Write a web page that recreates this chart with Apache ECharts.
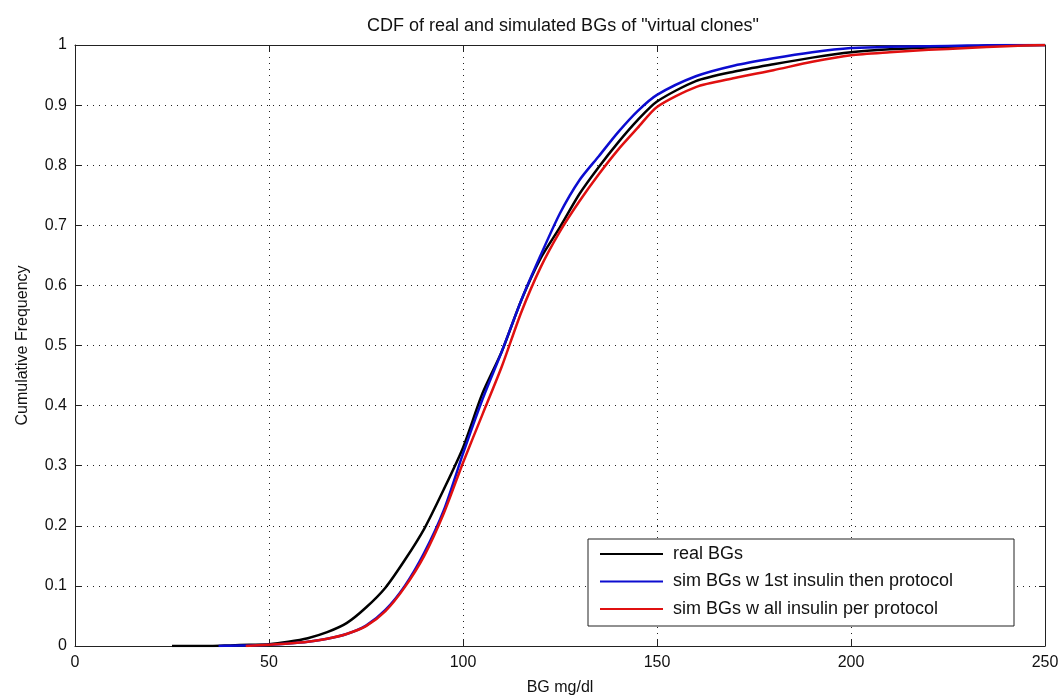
<!DOCTYPE html>
<html>
<head>
<meta charset="utf-8">
<title>CDF of real and simulated BGs</title>
<script src="https://cdn.jsdelivr.net/npm/echarts@6/dist/echarts.min.js"></script>
<style>
  html, body { margin: 0; padding: 0; background: #fff; }
  #chart { width: 1060px; height: 698px; }
</style>
</head>
<body>
<div id="chart"></div>
<script>
// BG mg/dl sample points and cumulative frequency
const realBg = [25, 30, 35, 40, 45, 50, 55, 60, 65, 70, 75, 80, 85, 90, 95, 100, 105, 110, 115, 120, 125, 130, 135, 140, 145, 150, 160, 170, 180, 190, 200, 210, 220, 230, 240, 250]
const realCdf = [0, 0, 0, 0.001, 0.002, 0.003, 0.007, 0.013, 0.023, 0.038, 0.064, 0.097, 0.143, 0.195, 0.26, 0.33, 0.42, 0.49, 0.575, 0.645, 0.697, 0.752, 0.797, 0.838, 0.875, 0.906, 0.94, 0.956, 0.968, 0.979, 0.988, 0.993, 0.996, 0.998, 0.999, 1]

const simFirstBg = [37, 40, 45, 50, 55, 60, 65, 70, 75, 80, 85, 90, 95, 100, 105, 110, 115, 120, 125, 130, 135, 140, 145, 150, 160, 170, 180, 190, 200, 210, 220, 230, 240, 250]
const simFirstCdf = [0, 0.0005, 0.001, 0.002, 0.004, 0.007, 0.012, 0.02, 0.034, 0.06, 0.1, 0.155, 0.225, 0.32, 0.41, 0.49, 0.575, 0.65, 0.72, 0.775, 0.815, 0.855, 0.89, 0.917, 0.948, 0.966, 0.978, 0.988, 0.995, 0.997, 0.998, 0.999, 1, 1]

const simAllBg = [44, 50, 55, 60, 65, 70, 75, 80, 85, 90, 95, 100, 105, 110, 115, 120, 125, 130, 135, 140, 145, 150, 160, 170, 180, 190, 200, 210, 220, 230, 240, 250]
const simAllCdf = [0, 0.002, 0.004, 0.007, 0.012, 0.02, 0.033, 0.058, 0.098, 0.15, 0.22, 0.305, 0.385, 0.465, 0.555, 0.63, 0.69, 0.74, 0.785, 0.826, 0.862, 0.897, 0.93, 0.945, 0.958, 0.972, 0.983, 0.988, 0.992, 0.995, 0.998, 1]

const seriesNames = ['real BGs', 'sim BGs w 1st insulin then protocol', 'sim BGs w all insulin per protocol']
const seriesColors = ['#000000', '#0c0cd0', '#e01010']

const xTicks = { min: 0, max: 250, interval: 50 }
const yTicks = { min: 0, max: 1, interval: 0.1 }

const font = 'Liberation Sans, Arial, Helvetica, sans-serif'
const axisColor = '#222'

function zip(xs, ys) {
  return xs.map((x, i) => [x, ys[i]])
}

function boxAxis(base, extra) {
  return Object.assign({
    type: 'value',
    min: base.min,
    max: base.max,
    interval: base.interval,
    axisLine: { show: true, onZero: false, lineStyle: { color: axisColor, width: 1 } },
    axisTick: { show: true, inside: true, length: 6, lineStyle: { color: axisColor } },
    splitLine: { show: false },
    axisLabel: { show: false }
  }, extra)
}

let chart = echarts.init(document.getElementById('chart'), null, { renderer: 'canvas' })

let lineSeries = [zip(realBg, realCdf), zip(simFirstBg, simFirstCdf), zip(simAllBg, simAllCdf)].map((data, i) => ({
  name: seriesNames[i],
  type: 'line',
  data: data,
  showSymbol: false,
  smooth: 0.25,
  color: seriesColors[i],
  lineStyle: { color: seriesColors[i], width: 2.5, join: 'round' },
  z: 2 + i
}))

let option = {
  animation: false,
  backgroundColor: '#fff',
  textStyle: { fontFamily: font },
  title: {
    text: 'CDF of real and simulated BGs of "virtual clones"',
    left: 558,
    textAlign: 'center',
    top: 12,
    textStyle: { fontSize: 18, fontWeight: 'normal', color: '#111', fontFamily: font }
  },
  grid: { left: 75, right: 15, top: 45, bottom: 52, outerBoundsMode: 'none', containLabel: false },
  legend: {
    orient: 'vertical',
    left: 600,
    top: 544,
    padding: 0,
    icon: 'rect',
    itemWidth: 63,
    itemHeight: 2,
    itemGap: 7.5,
    data: seriesNames,
    textStyle: { fontSize: 18, color: '#111', lineHeight: 20, fontFamily: font, padding: [0, 0, 0, 5] },
    z: 6
  },
  graphic: [{
    type: 'rect',
    shape: { x: 588, y: 539, width: 426, height: 87 },
    style: { fill: '#fff', stroke: axisColor, lineWidth: 1 },
    z: 5
  }],
  xAxis: [
    boxAxis(xTicks, {
      position: 'bottom',
      name: 'BG mg/dl',
      nameLocation: 'middle',
      nameGap: 34,
      nameTextStyle: { fontSize: 16, color: '#111' },
      axisLabel: { show: true, fontSize: 16, color: '#111', margin: 9 },
      splitLine: { show: true, lineStyle: { color: '#222', type: [1, 5], width: 1 } }
    }),
    boxAxis(xTicks, { position: 'top' })
  ],
  yAxis: [
    boxAxis(yTicks, {
      position: 'left',
      name: 'Cumulative Frequency',
      nameLocation: 'middle',
      nameGap: 44,
      nameTextStyle: { fontSize: 16, color: '#111' },
      axisLabel: { show: true, fontSize: 16, color: '#111', margin: 8 },
      splitLine: { show: true, lineStyle: { color: '#222', type: [1, 5], width: 1 } }
    }),
    boxAxis(yTicks, { position: 'right' })
  ],
  series: lineSeries
}

chart.setOption(option)
</script>
</body>
</html>
